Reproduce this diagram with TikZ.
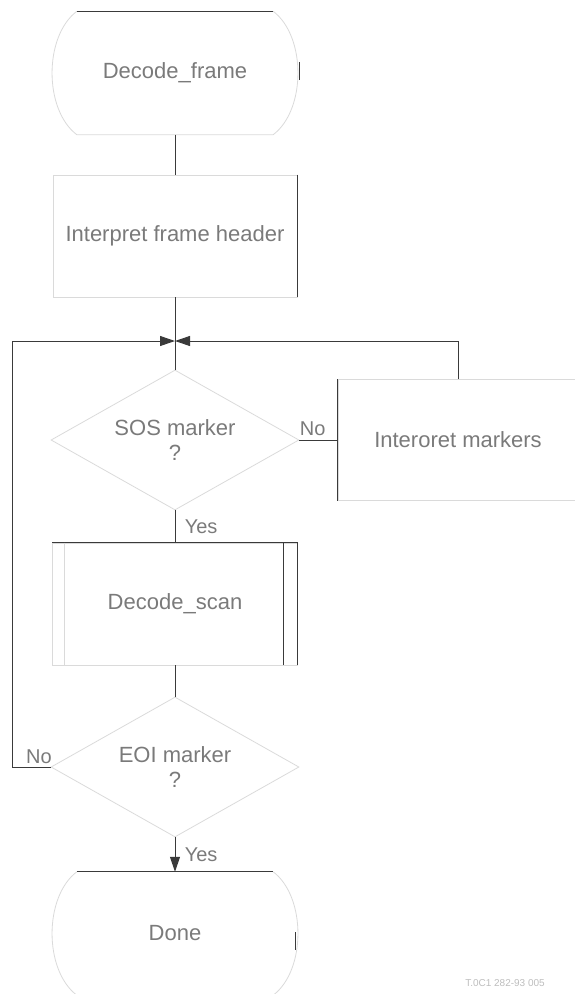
\documentclass[tikz,border=0pt]{standalone}
\usepackage{fontspec}
\setmainfont{Liberation Sans}
\usetikzlibrary{shapes.geometric,arrows.meta,calc}
\definecolor{dk}{HTML}{3A3A3A}
\definecolor{ft}{HTML}{DADADA}
\definecolor{tx}{HTML}{7A7A7A}
\begin{document}
\begin{tikzpicture}[x=1pt,y=-1pt,
  every node/.style={font=\fontsize{22}{25}\selectfont, text=tx},
  term/.style={rectangle, minimum width=196pt, minimum height=123pt, inner sep=0pt},
  procbox/.style={rectangle, draw=ft, line width=0.8pt, inner sep=0pt},
  decision/.style={diamond, draw=ft, line width=0.8pt, minimum width=248pt, minimum height=140pt, inner sep=0pt, aspect=1.77, align=center},
  conn/.style={draw=dk, line width=1pt},
  tipped/.style={-{Triangle[length=15pt,width=10pt]}},
  lbl/.style={font=\fontsize{20}{24}\selectfont, text=tx},
  faint/.style={draw=ft, line width=0.8pt},
  dark/.style={draw=dk, line width=1pt}
]
\useasboundingbox (0,0) rectangle (574,994);

% nodes
\node[term] (start) at (175,73) {Decode\_frame};
\node[procbox, minimum width=244pt, minimum height=122pt] (hdr) at (175,236) {Interpret frame header};
\coordinate (J) at (175,341);
\node[decision] (sos) at (175,440) {SOS marker\\?};
\node[procbox, minimum width=240pt, minimum height=121pt] (mk) at (458,440) {Interoret markers};
\node[procbox, minimum width=245pt, minimum height=122pt] (scan) at (175,604) {Decode\_scan};
\node[decision] (eoi) at (175,767) {EOI marker\\?};
\node[term] (done) at (175,933.5) {Done};
\coordinate (lp) at (12,767);

% terminal outlines
\draw[faint] (start.north east) .. controls +(33,25) and +(33,-25) .. (start.south east)
  -- (start.south west) .. controls +(-33,-25) and +(-33,25) .. (start.north west);
\draw[dark] (start.north west) -- (start.north east);
\draw[dark] (299,62) -- (299,80);
\draw[faint] (done.north east) .. controls +(33,25) and +(33,-25) .. (done.south east)
  -- (done.south west) .. controls +(-33,-25) and +(-33,25) .. (done.north west);
\draw[dark] (done.north west) -- (done.north east);
\draw[dark] (295,932) -- (295,950);

% dark edges of boxes
\draw[dark] (hdr.north east) -- (hdr.south east);
\draw[dark] (mk.north west) -- (mk.south west);
\draw[dark] (scan.north west) -- (scan.north east) -- (scan.south east);
\draw[dark] ($(scan.north east)+(-14,0)$) -- ($(scan.south east)+(-14,0)$);
\draw[faint] ($(scan.north west)+(12,0)$) -- ($(scan.south west)+(12,0)$);

% connectors
\draw[conn] (start.south) -- (hdr.north);
\draw[conn] (hdr.south) -- (sos.north);
\draw[conn, tipped] (mk.north) -- (mk.north |- J) -- (J);
\draw[conn, tipped] (eoi.west) -- (lp) |- (J);
\path (eoi.west) -- node[lbl, above, pos=0.3] {No} (lp);
\draw[conn] (sos.east) -- node[lbl, above, pos=0.35] {No} (mk.west);
\draw[conn] (sos.south) -- node[lbl, right=6pt] {Yes} (scan.north);
\draw[conn] (scan.south) -- (eoi.north);
\draw[conn, tipped] (eoi.south) -- node[lbl, right=6pt] {Yes} (done.north);

% figure id
\node[font=\fontsize{10}{12}\selectfont, text=ft!70!tx] (fid) at (505,983) {T.0C1 282-93 005};
\end{tikzpicture}
\end{document}
